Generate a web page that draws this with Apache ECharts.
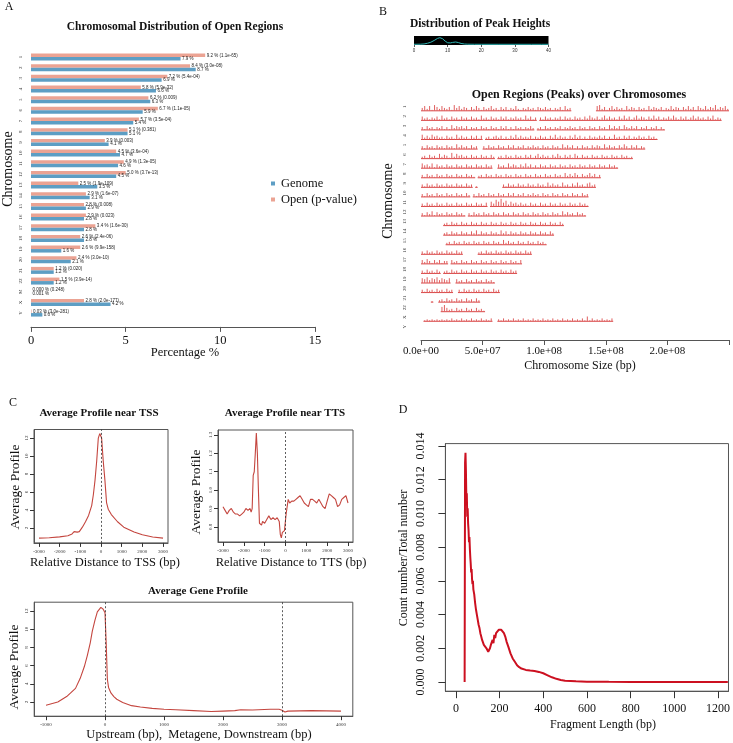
<!DOCTYPE html>
<html><head><meta charset="utf-8">
<script src="https://cdn.jsdelivr.net/npm/echarts@6/dist/echarts.min.js"></script>
<style>html,body{margin:0;padding:0;background:#fff}#c{width:733px;height:743px}</style>
</head><body><div id="c"></div>
<script>
// ---------- Panel A data ----------
const chrA = ['1','2','3','4','5','6','7','8','9','10','11','12','13','14','15','16','17','18','19','20','21','22','M','X','Y'];
const genomePct = [7.9, 8.7, 6.9, 6.6, 6.3, 5.9, 5.4, 5.1, 4.1, 4.7, 4.6, 4.5, 3.5, 3.1, 2.9, 2.8, 2.8, 2.8, 1.6, 2.1, 1.2, 1.2, 0.001, 4.2, 0.6];
const openPct = [9.2, 8.4, 7.2, 5.8, 6.2, 6.7, 5.7, 5.1, 3.9, 4.5, 4.9, 5.0, 2.5, 2.9, 2.8, 2.9, 3.4, 2.6, 2.6, 2.4, 1.2, 1.5, 0.000, 2.8, 0.03];
const openP = ['1.1e-65','3.0e-08','5.4e-04','5.9e-32','0.009','1.1e-05','3.5e-04','0.381','0.003','3.6e-04','1.3e-05','3.7e-13','1.9e-109','1.6e-07','0.008','0.023','1.6e-30','2.4e-06','9.9e-158','3.0e-10','0.020','3.9e-14','0.248','2.0e-177','3.0e-281'];

// ---------- Panel B data ----------
const peakHeightX = [0, 2, 3, 4, 5, 6, 7, 7.7, 8.5, 9.3, 10, 10.8, 11.5, 12.4, 13.2, 14, 15, 16, 18, 20, 25, 30, 35, 38, 40];
const peakHeightDensity = [0, 0.003, 0.01, 0.03, 0.06, 0.11, 0.17, 0.19, 0.16, 0.09, 0.045, 0.04, 0.055, 0.066, 0.05, 0.025, 0.008, 0.003, 0.001, 0, 0, 0, 0, 0, 0];
const chrB = ['1','2','3','4','5','6','7','8','9','10','11','12','13','14','15','16','17','18','19','20','21','22','X','Y'];
// peak heights per 2 Mb bin ('.' = no coverage)
const chrPeaks = [
 '3525164253 2416352431 4253142352 3142413252 1324231432 4231324152 3......... .562413524 2315243142 3152432413 2524314252 4153252436 24352',
 '4231324152 3142314231 4231523142 3142413242 3152413.31 4231324142 3142314253 2413524231 4252413524 3142524132 4253142413 5242314251 32',
 '3142313241 3152434241 3231423142 3142413142 313242.231 4231324132 4231423142 3142315242 4153242413 241324131',
 '5242534231 4231524231 42414.2313 4241314252 4232413242 3142524231 4252413142 3242413152 3142413242 314231',
 '3142314231 4231524231 423..31423 1423142413 2413242314 2314231524 2413142314 2431524231 4253142413 2',
 '2314231524 3162534231 4231423142 .231423142 3142413524 2314253142 4153142314 2314231423 142312',
 '5342514231 4231423142 314231423. .423152431 4252413142 3142314231 4231423142 3142314231',
 '3142314231 4231423142 31.2314231 4231423142 3142314231 4231423152 4253142352 413',
 '3142314231 4231423142 3.1....... ...3142314 2314231423 1524231523 1425231452 3',
 '3142314231 4231423142 .314231423 1423142413 2413242314 2314231423 14231423',
 '3142314231 4231423142 3142314.53 7584625342 4231423142 3142314231 42314231',
 '3142514231 42314231.3 1423142314 2314231423 1423142314 2314231524 2314231',
 '.........2 3142314231 4231423142 3142314231 4231423142 31423142',
 '.........2 3142314231 4251423142 3152414231 4231423142 3142',
 '.......... 2314231423 1423142314 2315242314 2314231423 1',
 '3142314231 4231423... ...2314231 4231423142 31423',
 '4253142413 3.42314231 4231423142 3142314231 4',
 '31423142.2 3142314231 4231423142 314231423',
 '5463546354 35..423142 3142314231',
 '3142314231 423..31423 1423142314 23',
 '....1..231 4231423142 3142',
 '........57 4231423142 314231',
 '.121212121 2131213121 312131213. .213121312 1312131213 1213121312 1312131513 12131213',
 ''
];

// ---------- Panel C data ----------
const tssX = [-3000,-2500,-2000,-1600,-1400,-1300,-1250,-1150,-1050,-900,-750,-600,-450,-370,-290,-210,-130,-60,0,30,110,190,270,350,500,800,1100,1600,2000,2500,3000];
const tssY = [0.88,0.93,1.02,1.15,1.35,1.6,1.68,1.55,1.6,2.1,2.7,3.4,4.5,5.7,7.3,9.4,12.0,12.5,12.3,12.0,9.4,7.3,4.8,4.1,3.5,2.7,2.1,1.55,1.25,1.0,0.88];
const ttsX = [-3000,-2900,-2800,-2700,-2600,-2500,-2400,-2300,-2200,-2100,-2000,-1900,-1800,-1700,-1650,-1600,-1550,-1500,-1450,-1400,-1350,-1300,-1250,-1200,-1150,-1100,-1000,-900,-800,-700,-600,-500,-400,-300,-250,-200,-150,-100,-50,0,30,80,130,200,300,400,500,600,700,800,900,1000,1100,1200,1300,1400,1500,1550,1600,1700,1800,1900,2000,2100,2200,2300,2400,2500,2600,2700,2800,2900,3000];
const ttsY = [0.91,0.89,0.87,0.89,0.9,0.88,0.87,0.87,0.86,0.87,0.88,0.9,0.89,0.9,0.88,0.9,1.08,1.1,1.2,1.31,1.2,1.0,0.82,0.83,0.81,0.83,0.82,0.84,0.86,0.84,0.85,0.84,0.85,0.83,0.76,0.74,0.77,0.78,0.78,0.79,0.87,0.88,0.95,0.93,0.94,0.94,0.95,0.96,0.97,0.95,0.93,0.92,0.91,0.95,0.95,0.94,0.93,0.92,0.95,0.93,0.91,0.9,0.94,0.98,0.97,0.96,0.95,0.91,0.92,0.95,0.96,0.97,0.93];
const geneX = [-1000,-800,-650,-500,-420,-350,-300,-250,-215,-170,-130,-70,-30,0,20,40,60,100,150,200,300,450,600,800,1000,1200,1500,1800,2000,2200,2300,2500,2800,2950,3000,3050,3100,3500,4000];
const geneY = [1.65,2.0,2.6,3.5,4.6,5.9,7.1,8.5,9.8,11.0,11.9,12.4,12.2,11.8,8.5,4.5,3.6,3.0,2.6,2.3,1.95,1.6,1.45,1.3,1.2,1.15,1.05,0.95,1.0,1.05,1.15,1.12,1.2,1.2,1.1,0.9,1.0,1.05,1.0];

// ---------- Panel D data ----------
const fragX = [40,42,44,46,48,50,52,54,56,58,60,62,64,66,68,70,72,74,76,78,80,84,88,92,96,100,104,108,112,116,120,124,128,132,136,140,144,148,152,156,160,164,168,172,176,180,184,188,192,196,200,204,208,212,216,220,226,232,240,250,260,270,280,290,300,320,340,360,380,400,420,440,460,480,500,550,600,700,800,900,1000,1100,1245];
const fragY = [0,0.0130,0.0136,0.0125,0.0108,0.0112,0.0098,0.0103,0.0094,0.0090,0.0083,0.0086,0.0079,0.0074,0.0070,0.0065,0.0067,0.0061,0.0058,0.0060,0.0055,0.0052,0.0047,0.0043,0.0040,0.0037,0.0034,0.0032,0.0029,0.0027,0.0025,0.0024,0.0022,0.0021,0.0022,0.0020,0.0019,0.0018,0.0019,0.0020,0.0022,0.0021,0.0025,0.0023,0.0028,0.0026,0.0029,0.0028,0.0030,0.0031,0.0031,0.0032,0.0031,0.0032,0.0030,0.0029,0.0027,0.0024,0.0021,0.0017,0.0014,0.0012,0.0010,0.00088,0.00080,0.00072,0.00068,0.00066,0.00060,0.00052,0.00040,0.00028,0.00019,0.00012,0.00008,0.00004,0.00002,0.00001,0.000005,0,0,0,0];

// ---------- build ----------
const SERIF = 'Liberation Serif';
const BIN = 2e6;
const segData = [], peakData = [];
chrPeaks.forEach((s, ci) => {
  const str = s.replace(/ /g, '');
  let run = -1;
  for (let j = 0; j <= str.length; j++) {
    const ch = j < str.length ? str[j] : '.';
    if (ch !== '.') {
      if (run < 0) run = j;
      const h = +ch;
      if (h > 0) peakData.push([(j + 0.5) * BIN, ci, h]);
    } else if (run >= 0) {
      segData.push([run * BIN, j * BIN, ci]);
      run = -1;
    }
  }
});
const zip = (a, b) => a.map((v, i) => [v, b[i]]);
const fmtPct = v => v < 0.01 ? v.toFixed(3) : (v < 0.1 ? v.toFixed(2) : v.toFixed(1));
const sciFmt = v => {
  if (v >= 2.5e8) return '';
  const [m, e] = v.toExponential(1).split('e');
  return m + 'e' + e[0] + e.slice(1).padStart(2, '0');
};
const plain = v => String(v);
const range = (a, b, s) => { const r = []; for (let v = a; v <= b + 1e-12; v += s) r.push(+v.toFixed(6)); return r; };

const frameGrid = {show: true, borderColor: '#555', borderWidth: 1};
const tinyLbl = {fontSize: 5, color: '#333', fontFamily: SERIF};
const C_LINE = '#C4463F';
const noLine = {show: false, onZero: false};
const frameLine = () => ({show: true, onZero: false, lineStyle: {color: '#555', width: 1}});

function txt(x, y, text, size, opts = {}) {
  return {
    type: 'text', x, y, rotation: opts.rot || 0,
    style: {text, fontSize: size, fontFamily: SERIF, fontWeight: opts.bold ? 'bold' : 'normal',
      fill: '#111', align: 'center', verticalAlign: 'middle'}
  };
}
const R = Math.PI / 2;
const tick = (len, vals) => ({show: true, length: len, customValues: vals, lineStyle: {color: '#333', width: 1}});

const option = {
  animation: false,
  backgroundColor: '#fff',
  legend: {
    data: ['Genome', 'Open (p-value)'], orient: 'vertical', left: 266, top: 172,
    itemWidth: 4, itemHeight: 4, itemGap: 3, icon: 'rect',
    textStyle: {fontSize: 12.5, fontFamily: SERIF, color: '#111', padding: [0, 0, 0, 1]}
  },
  grid: [
    {left: 31, top: 51.7, width: 284, height: 266.7},            // A
    {left: 414, top: 36, width: 134.5, height: 9, show: true, backgroundColor: '#000', borderWidth: 0}, // B density
    {left: 421, top: 102, width: 308, height: 229.6},             // B main
    Object.assign({left: 34, top: 429.5, width: 134, height: 113.4}, frameGrid),   // TSS
    Object.assign({left: 218, top: 430, width: 135, height: 112}, frameGrid),      // TTS
    Object.assign({left: 34.2, top: 602.2, width: 318.6, height: 114}, frameGrid), // gene
    Object.assign({left: 445.4, top: 443.6, width: 285, height: 247.6}, frameGrid) // D
  ],
  xAxis: [
    {gridIndex: 0, type: 'value', min: 0, max: 15, interval: 5, offset: 8.5,
      axisLine: frameLine(), axisTick: {show: true, length: 5, lineStyle: {color: '#555'}},
      splitLine: {show: false}, axisLabel: {fontSize: 12.5, fontFamily: SERIF, color: '#111', margin: 7}},
    {gridIndex: 1, type: 'value', min: 0, max: 40, interval: 10,
      axisLine: noLine, axisTick: {show: true, length: 2, lineStyle: {color: '#555'}},
      splitLine: {show: false}, axisLabel: {fontSize: 4.5, color: '#333', margin: 3}},
    {gridIndex: 2, type: 'value', min: 0, max: 2.5e8, interval: 5e7, offset: 8.4,
      axisLine: frameLine(), axisTick: {show: true, length: 5, lineStyle: {color: '#555'}},
      splitLine: {show: false}, axisLabel: {fontSize: 11, fontFamily: SERIF, color: '#111', margin: 6, formatter: sciFmt}},
    {gridIndex: 3, type: 'value', min: -3240, max: 3240,
      axisLine: frameLine(), axisTick: tick(4, range(-3000, 3000, 1000)),
      splitLine: {show: false}, axisLabel: Object.assign({margin: 6, customValues: range(-3000, 3000, 1000), formatter: plain}, tinyLbl)},
    {gridIndex: 4, type: 'value', min: -3240, max: 3240,
      axisLine: frameLine(), axisTick: tick(4, range(-3000, 3000, 1000)),
      splitLine: {show: false}, axisLabel: Object.assign({margin: 6, customValues: range(-3000, 3000, 1000), formatter: plain}, tinyLbl)},
    {gridIndex: 5, type: 'value', min: -1200, max: 4200,
      axisLine: frameLine(), axisTick: tick(4, range(-1000, 4000, 1000)),
      splitLine: {show: false}, axisLabel: Object.assign({margin: 6, customValues: range(-1000, 4000, 1000), formatter: plain}, tinyLbl)},
    {gridIndex: 6, type: 'value', min: -48, max: 1248,
      axisLine: frameLine(), axisTick: tick(7, range(0, 1200, 200)),
      splitLine: {show: false}, axisLabel: {margin: 12, customValues: range(0, 1200, 200), formatter: plain, fontSize: 12, fontFamily: SERIF, color: '#111'}}
  ],
  yAxis: [
    {gridIndex: 0, type: 'category', data: chrA, inverse: true,
      axisLine: noLine, axisTick: {show: false}, splitLine: {show: false},
      axisLabel: Object.assign({rotate: 90, margin: 8}, tinyLbl)},
    {gridIndex: 1, type: 'value', min: -0.02, max: 0.239, show: false, axisLine: noLine, splitLine: {show: false}},
    {gridIndex: 2, type: 'category', data: chrB, inverse: true,
      axisLine: noLine, axisTick: {show: false}, splitLine: {show: false},
      axisLabel: Object.assign({rotate: 90, margin: 14}, tinyLbl)},
    {gridIndex: 3, type: 'value', min: 0.35, max: 12.95,
      axisLine: frameLine(), axisTick: tick(4, range(2, 12, 2)),
      splitLine: {show: false}, axisLabel: Object.assign({rotate: 90, margin: 5, customValues: range(2, 12, 2)}, tinyLbl)},
    {gridIndex: 4, type: 'value', min: 0.718, max: 1.327,
      axisLine: frameLine(), axisTick: tick(4, range(0.8, 1.3, 0.1)),
      splitLine: {show: false}, axisLabel: Object.assign({rotate: 90, margin: 5, customValues: range(0.8, 1.3, 0.1), formatter: v => v.toFixed(1)}, tinyLbl)},
    {gridIndex: 5, type: 'value', min: 0.44, max: 12.97,
      axisLine: frameLine(), axisTick: tick(4, range(2, 12, 2)),
      splitLine: {show: false}, axisLabel: Object.assign({rotate: 90, margin: 5, customValues: range(2, 12, 2)}, tinyLbl)},
    {gridIndex: 6, type: 'value', min: -0.000544, max: 0.014144,
      axisLine: frameLine(), axisTick: tick(7, range(0, 0.014, 0.002)),
      splitLine: {show: false}, axisLabel: {rotate: 90, margin: 19, customValues: range(0, 0.014, 0.002), formatter: v => v.toFixed(3), fontSize: 12, fontFamily: SERIF, color: '#111'}}
  ],
  series: [
    {name: 'Open (p-value)', type: 'bar', xAxisIndex: 0, yAxisIndex: 0, data: openPct, barWidth: 3.5, barGap: '0%',
      itemStyle: {color: '#EBA393'},
      label: {show: true, position: 'right', distance: 1.5, fontSize: 4.5, color: '#222',
        formatter: p => fmtPct(p.value) + ' % (' + openP[p.dataIndex] + ')'}},
    {name: 'Genome', type: 'bar', xAxisIndex: 0, yAxisIndex: 0, data: genomePct, barWidth: 3.5, barGap: '0%',
      itemStyle: {color: '#5D9EC4'},
      label: {show: true, position: 'right', distance: 1.5, fontSize: 4.5, color: '#222',
        formatter: p => fmtPct(p.value) + ' %'}},
    {type: 'line', xAxisIndex: 1, yAxisIndex: 1, data: zip(peakHeightX, peakHeightDensity), showSymbol: false,
      lineStyle: {color: '#2FB5B5', width: 1}},
    {type: 'custom', xAxisIndex: 2, yAxisIndex: 2, data: segData, encode: {x: [0, 1], y: 2},
      renderItem: (params, api) => {
        const a = api.coord([api.value(0), api.value(2)]);
        const b = api.coord([api.value(1), api.value(2)]);
        const band = api.size([0, 1])[1];
        const y = a[1] + band * 0.42;
        return {type: 'line', shape: {x1: a[0], y1: y, x2: b[0], y2: y}, style: {stroke: '#D94545', lineWidth: 1}};
      }},
    {type: 'custom', xAxisIndex: 2, yAxisIndex: 2, data: peakData, encode: {x: 0, y: 1},
      renderItem: (params, api) => {
        const p = api.coord([api.value(0), api.value(1)]);
        const band = api.size([0, 1])[1];
        const y = p[1] + band * 0.42;
        return {type: 'line', shape: {x1: p[0], y1: y, x2: p[0], y2: y - api.value(2) / 9 * band * 0.9},
          style: {stroke: '#E06060', lineWidth: 1}};
      }},
    {type: 'line', xAxisIndex: 3, yAxisIndex: 3, data: zip(tssX, tssY), showSymbol: false,
      lineStyle: {color: C_LINE, width: 1.1},
      markLine: {silent: true, symbol: 'none', label: {show: false}, lineStyle: {color: '#333', type: [2, 2], width: 0.8}, data: [{xAxis: 0}]}},
    {type: 'line', xAxisIndex: 4, yAxisIndex: 4, data: zip(ttsX, ttsY), showSymbol: false,
      lineStyle: {color: C_LINE, width: 1.1},
      markLine: {silent: true, symbol: 'none', label: {show: false}, lineStyle: {color: '#333', type: [2, 2], width: 0.8}, data: [{xAxis: 0}]}},
    {type: 'line', xAxisIndex: 5, yAxisIndex: 5, data: zip(geneX, geneY), showSymbol: false,
      lineStyle: {color: C_LINE, width: 1.1},
      markLine: {silent: true, symbol: 'none', label: {show: false}, lineStyle: {color: '#333', type: [2, 2], width: 0.8}, data: [{xAxis: 0}, {xAxis: 3000}]}},
    {type: 'line', xAxisIndex: 6, yAxisIndex: 6, data: zip(fragX, fragY), showSymbol: false,
      lineStyle: {color: '#CC1020', width: 2}}
  ],
  graphic: [
    txt(9, 7, 'A', 12), txt(383, 12, 'B', 12), txt(13, 403, 'C', 12), txt(403, 410, 'D', 12),
    txt(175, 27, 'Chromosomal Distribution of Open Regions', 11.5, {bold: true}),
    txt(8, 169, 'Chromosome', 14, {rot: R}),
    txt(185, 353, 'Percentage %', 12.5),
    txt(480, 24, 'Distribution of Peak Heights', 11.5, {bold: true}),
    txt(579, 95, 'Open Regions (Peaks) over Chromosomes', 12, {bold: true}),
    txt(388, 201, 'Chromosome', 14, {rot: R}),
    txt(580, 366, 'Chromosome Size (bp)', 12),
    txt(99, 413, 'Average Profile near TSS', 11, {bold: true}),
    txt(285, 413, 'Average Profile near TTS', 11, {bold: true}),
    txt(15, 487, 'Average Profile', 13.5, {rot: R}),
    txt(196, 492, 'Average Profile', 13.5, {rot: R}),
    txt(105, 563, 'Relative Distance to TSS (bp)', 12.5),
    txt(291, 563, 'Relative Distance to TTS (bp)', 12.5),
    txt(198, 591, 'Average Gene Profile', 11, {bold: true}),
    txt(14, 667, 'Average Profile', 13.5, {rot: R}),
    txt(199, 735, 'Upstream (bp),  Metagene, Downstream (bp)', 12.5),
    txt(404, 558, 'Count number/Total number', 12, {rot: R}),
    txt(603, 725, 'Fragment Length (bp)', 12)
  ]
};
const chart = echarts.init(document.getElementById('c'), null, {renderer: 'canvas'});
chart.setOption(option);
</script></body></html>
